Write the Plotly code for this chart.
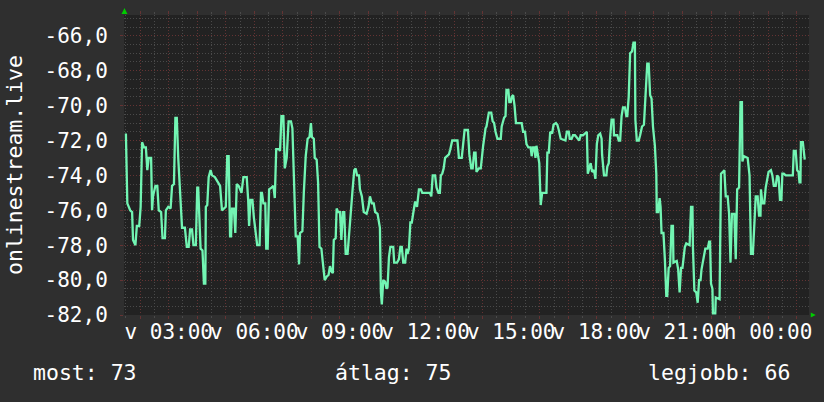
import plotly.graph_objects as go

# time of each sample, minutes since Sunday 00:00 (values > 1440 are Monday)
minutes = [90, 93, 99, 103, 105, 110, 113, 118, 121, 124, 128, 132, 135, 138, 143, 145, 147, 152, 156, 159,
           164, 167, 172, 174, 179, 184, 187, 191, 194, 197, 200, 204, 208, 214, 218, 222, 225, 229, 232, 237,
           240, 242, 244, 247, 251, 254, 257, 258, 261, 264, 268, 271, 277, 282, 288, 292, 296, 300, 303, 306,
           309, 311, 313, 317, 320, 323, 327, 330, 333, 337, 344, 347, 349, 352, 356, 359, 363, 366, 371, 374,
           376, 379, 383, 385, 388, 389, 391, 396, 400, 403, 406, 412, 414, 417, 421, 424, 428, 432, 437, 440,
           444, 447, 451, 454, 456, 461, 464, 468, 472, 476, 479, 481, 485, 487, 491, 494, 497, 501, 504, 508,
           512, 516, 519, 522, 525, 527, 531, 533, 536, 540, 543, 546, 549, 552, 556, 559, 561, 566, 570, 573,
           576, 580, 582, 586, 590, 596, 600, 603, 607, 611, 614, 619, 624, 626, 628, 631, 635, 638, 640, 643,
           646, 652, 654, 660, 664, 667, 670, 673, 677, 680, 682, 685, 688, 691, 695, 698, 702, 706, 710, 713,
           729, 732, 735, 740, 743, 747, 750, 752, 755, 758, 761, 765, 769, 772, 776, 787, 790, 796, 799, 802,
           809, 812, 816, 819, 822, 825, 827, 832, 836, 838, 841, 846, 848, 853, 858, 861, 864, 867, 871, 878,
           880, 885, 888, 890, 894, 896, 899, 901, 904, 907, 910, 922, 925, 929, 932, 936, 941, 943, 946, 949,
           951, 953, 956, 959, 962, 965, 974, 976, 979, 982, 986, 989, 994, 997, 1000, 1004, 1014, 1017, 1021, 1023,
           1027, 1030, 1034, 1037, 1040, 1043, 1046, 1051, 1055, 1059, 1061, 1065, 1067, 1070, 1074, 1077, 1080, 1083, 1087, 1090,
           1091, 1095, 1100, 1102, 1105, 1108, 1111, 1115, 1116, 1123, 1126, 1129, 1132, 1135, 1139, 1142, 1144, 1147, 1150, 1154,
           1157, 1160, 1161, 1164, 1168, 1171, 1175, 1179, 1182, 1186, 1189, 1192, 1195, 1198, 1202, 1205, 1206, 1209, 1212, 1214,
           1216, 1220, 1223, 1226, 1228, 1231, 1234, 1237, 1240, 1241, 1248, 1251, 1254, 1257, 1260, 1262, 1265, 1268, 1275, 1278,
           1281, 1282, 1285, 1289, 1292, 1295, 1298, 1300, 1303, 1306, 1308, 1313, 1316, 1318, 1320, 1323, 1324, 1329, 1330, 1338,
           1341, 1345, 1348, 1351, 1355, 1358, 1361, 1364, 1369, 1372, 1375, 1379, 1382, 1385, 1386, 1389, 1397, 1401, 1404, 1408,
           1411, 1414, 1418, 1421, 1424, 1425, 1428, 1432, 1435, 1438, 1441, 1446, 1449, 1452, 1456, 1459, 1462, 1465, 1468, 1470,
           1473, 1477, 1492, 1494, 1498, 1501, 1504, 1506, 1508, 1509, 1513, 1517]

values = [-71.6, -75.6, -76.0, -76.1, -77.7, -78.0, -76.9, -76.9, -75.8, -72.1, -72.4, -72.4, -73.7, -73.0, -73.0, -76.0, -75.2, -74.6, -74.6, -76.0,
          -76.1, -77.6, -77.6, -76.0, -75.8, -75.9, -74.6, -74.5, -70.7, -70.7, -73.0, -74.8, -77.0, -77.0, -78.1, -78.1, -77.1, -77.1, -78.0, -78.0,
          -74.7, -74.7, -76.5, -78.2, -78.3, -80.2, -80.2, -75.8, -75.7, -74.1, -73.7, -74.0, -74.1, -74.3, -74.6, -76.0, -75.9, -75.8, -72.9, -72.9,
          -77.5, -77.5, -75.9, -75.9, -77.3, -74.5, -74.6, -74.8, -75.0, -74.1, -74.1, -75.4, -76.9, -75.4, -75.4, -76.4, -77.2, -78.0, -78.0, -75.0,
          -75.0, -75.6, -75.6, -78.2, -78.2, -77.1, -74.8, -74.7, -74.6, -75.3, -72.5, -72.5, -72.6, -70.6, -70.6, -73.6, -73.0, -70.9, -70.9, -71.3,
          -74.5, -77.5, -77.5, -79.1, -77.3, -77.2, -75.0, -72.9, -71.9, -71.8, -71.0, -71.8, -71.9, -73.0, -73.1, -74.4, -78.1, -78.2, -79.0, -80.0,
          -79.8, -79.7, -79.2, -79.5, -79.6, -77.7, -77.6, -75.9, -76.1, -76.1, -77.7, -76.1, -76.1, -78.5, -78.5, -77.3, -76.5, -75.0, -73.7, -73.6,
          -74.0, -74.0, -74.8, -75.2, -76.1, -76.2, -75.8, -75.2, -75.6, -75.6, -76.1, -76.2, -77.0, -80.7, -81.4, -80.0, -80.1, -80.5, -80.4, -78.7,
          -78.1, -78.1, -79.0, -79.0, -78.8, -78.1, -78.1, -79.0, -79.0, -78.2, -78.5, -78.2, -76.7, -76.7, -76.0, -75.5, -75.8, -74.8, -74.8, -75.0,
          -75.0, -75.2, -74.0, -74.0, -74.7, -75.0, -75.0, -74.0, -73.9, -73.6, -73.0, -72.9, -72.8, -72.5, -72.0, -72.0, -73.0, -73.0, -72.3, -71.4,
          -71.4, -72.8, -73.6, -73.6, -72.7, -72.7, -73.8, -73.6, -73.6, -72.9, -72.3, -71.3, -71.2, -70.4, -70.4, -70.9, -71.0, -71.5, -71.9, -71.9,
          -71.2, -70.7, -70.6, -69.1, -69.1, -69.8, -69.8, -69.5, -69.4, -70.0, -71.0, -71.0, -71.5, -71.5, -72.2, -72.4, -72.4, -72.9, -72.4, -72.4,
          -73.0, -72.3, -72.7, -73.3, -75.7, -75.0, -75.0, -72.7, -72.7, -71.5, -71.6, -71.1, -71.0, -71.1, -71.4, -71.9, -72.0, -71.5, -71.5, -71.9,
          -71.9, -71.7, -71.7, -71.8, -71.9, -72.0, -71.7, -71.7, -71.6, -71.5, -73.9, -73.4, -73.3, -73.8, -73.7, -74.2, -72.2, -71.7, -71.6, -71.9,
          -72.8, -74.0, -74.0, -73.5, -73.3, -71.8, -70.8, -70.8, -71.7, -71.7, -72.0, -72.0, -70.6, -70.1, -70.1, -70.6, -70.6, -69.5, -67.0, -66.9,
          -66.4, -66.4, -70.8, -72.0, -72.0, -71.7, -71.2, -71.1, -69.4, -67.6, -67.6, -69.4, -69.6, -71.2, -72.3, -73.9, -76.1, -76.1, -75.3, -75.8,
          -77.3, -77.3, -78.8, -80.9, -80.9, -79.3, -79.2, -76.9, -76.9, -79.0, -78.9, -79.4, -80.7, -79.3, -79.3, -78.6, -78.1, -77.9, -78.0, -75.8,
          -75.8, -78.1, -80.6, -80.7, -81.3, -80.0, -80.0, -79.4, -78.9, -78.6, -78.2, -78.2, -77.8, -77.8, -80.2, -80.5, -81.9, -81.9, -81.0, -81.1,
          -73.9, -73.8, -73.7, -75.2, -75.2, -76.2, -79.0, -76.2, -76.2, -78.8, -74.8, -74.7, -69.8, -69.8, -73.2, -72.9, -73.0, -74.0, -78.5, -78.5,
          -76.7, -75.2, -75.2, -76.3, -76.3, -74.8, -75.6, -75.6, -74.7, -74.1, -73.8, -73.7, -74.0, -74.6, -74.6, -74.0, -74.1, -75.4, -75.4, -73.9,
          -73.9, -74.0, -74.0, -72.6, -72.6, -73.7, -73.8, -74.4, -74.4, -72.1, -72.1, -73.1]

# axis ticks / labels
y_tick_values = [-82, -80, -78, -76, -74, -72, -70, -68, -66]
y_tick_labels = ["-82,0", "-80,0", "-78,0", "-76,0", "-74,0", "-72,0", "-70,0", "-68,0", "-66,0"]
x_hour_lines = list(range(120, 1501, 60))
x_label_minutes = [180, 360, 540, 720, 900, 1080, 1260, 1440]
x_labels = ["v 03:00", "v 06:00", "v 09:00", "v 12:00", "v 15:00", "v 18:00", "v 21:00", "h 00:00"]
x_range = [86, 1526]
y_range = [-82, -64.81]

y_title = "onlinestream.live"
legend_texts = ["most: 73", "átlag: 75", "legjobb: 66"]

label_map = dict(zip(x_label_minutes, x_labels))
x_ticktext = [label_map.get(m, "") for m in x_hour_lines]

FONT = "DejaVu Sans Mono"
MAJOR = "#643333"
MINOR = "#4a4a4a"
DASH = "1px,2px"

fig = go.Figure()
fig.add_trace(go.Scatter(x=minutes, y=values, mode="lines",
                         line=dict(color="#72f5b3", width=2.3), hoverinfo="skip"))

fig.update_layout(
    width=824, height=402,
    margin=dict(l=124, r=15, t=15, b=87),
    paper_bgcolor="#2f2f2f", plot_bgcolor="#222222",
    showlegend=False,
    font=dict(family=FONT, color="#ffffff", size=21),
)
fig.update_xaxes(
    range=x_range, tickmode="array", tickvals=x_hour_lines, ticktext=x_ticktext,
    tickangle=0, automargin=False, ticklabelstandoff=-5,
    showgrid=True, gridcolor=MAJOR, griddash=DASH, gridwidth=1,
    ticks="outside", ticklen=3, tickcolor=MAJOR, mirror="ticks",
    zeroline=False, showline=False,
    tickfont=dict(family=FONT, size=21, color="#ffffff"),
    minor=dict(dtick=30, tick0=0, showgrid=True, gridcolor=MINOR, griddash=DASH,
               ticks="outside", ticklen=2, tickcolor=MINOR),
)
fig.update_yaxes(
    range=y_range, tickmode="array", tickvals=y_tick_values, ticktext=y_tick_labels,
    automargin=False,
    showgrid=True, gridcolor=MAJOR, griddash=DASH, gridwidth=1,
    ticks="outside", ticklen=3, tickcolor=MAJOR,
    zeroline=False, showline=False, ticklabelstandoff=8,
    tickfont=dict(family=FONT, size=21, color="#ffffff"),
    minor=dict(dtick=0.5, tick0=0, showgrid=True, gridcolor=MINOR, griddash=DASH),
)

# y-axis title (rotated)
fig.add_annotation(text=y_title, xref="paper", yref="paper", x=-0.1605, y=0.5,
                   xanchor="center", yanchor="middle", textangle=-90, showarrow=False,
                   font=dict(family=FONT, size=21.5, color="#ffffff"))

# legend line under the graph
legend_pos = [(-0.1357, "left"), (0.3049, "left"), (0.9745, "right")]
for txt, (xp, anc) in zip(legend_texts, legend_pos):
    fig.add_annotation(text=txt, xref="paper", yref="paper", x=xp, y=-0.193,
                       xanchor=anc, yanchor="middle", showarrow=False,
                       font=dict(family=FONT, size=21.5, color="#ffffff"))

# small green axis arrows (rrdtool style)
fig.add_shape(type="path", xref="paper", yref="paper",
              path="M 0.0007 1.0233 L -0.0036 1.0033 L 0.005 1.0033 Z",
              fillcolor="#00cc00", line=dict(width=0))
fig.add_shape(type="path", xref="paper", yref="paper",
              path="M 1.0099 0.0 L 1.0026 0.0083 L 1.0026 -0.0083 Z",
              fillcolor="#00cc00", line=dict(width=0))

fig.write_html("out.html", config={"displayModeBar": False},
               post_script="document.body.style.margin='0';document.body.style.background='#2f2f2f';")
